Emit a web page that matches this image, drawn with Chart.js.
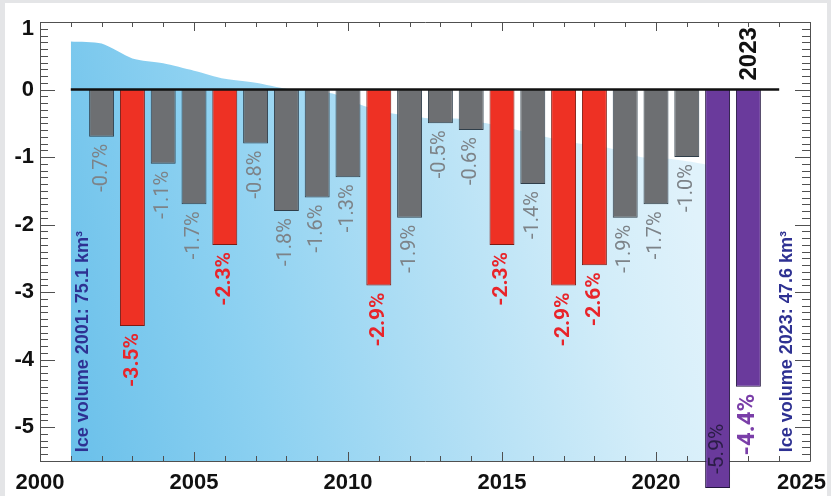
<!DOCTYPE html>
<html>
<head>
<meta charset="utf-8">
<script src="https://cdn.jsdelivr.net/npm/chart.js@4.4.1/dist/chart.umd.min.js"></script>
<style>
  html, body { margin: 0; padding: 0; background: #e4e5e7; }
  #wrap { position: absolute; left: 5px; top: 3px; width: 822px; height: 493px; background: #fff; }
</style>
</head>
<body>
<div id="wrap"><canvas id="iceChart"></canvas></div>
<script>
// Yearly change of ice volume (%)
const years = [2002, 2003, 2004, 2005, 2006, 2007, 2008, 2009, 2010, 2011, 2012,
               2013, 2014, 2015, 2016, 2017, 2018, 2019, 2020, 2021, 2022, 2023];
const changes = [-0.7, -3.5, -1.1, -1.7, -2.3, -0.8, -1.8, -1.6, -1.3, -2.9, -1.9,
                 -0.5, -0.6, -2.3, -1.4, -2.9, -2.6, -1.9, -1.7, -1.0, -5.9, -4.4];
const kinds = ['grey', 'red', 'grey', 'grey', 'red', 'grey', 'grey', 'grey', 'grey', 'red', 'grey',
               'grey', 'grey', 'red', 'grey', 'red', 'red', 'grey', 'grey', 'grey', 'purple', 'purple'];

// background "ice volume" area, top edge
const areaYears = [2001, 2002, 2003, 2004, 2005, 2006, 2007, 2008, 2008.5, 2009.5, 2010.5, 2011.5,
                   2012.5, 2013.5, 2014.5, 2015.5, 2016.5, 2017.5, 2018.5, 2019.5, 2020.5, 2021.5, 2022];
const areaTop = [0.71, 0.68, 0.46, 0.39, 0.28, 0.16, 0.10, 0.01, -0.01, -0.06, -0.24, -0.36,
                 -0.42, -0.43, -0.5, -0.6, -0.71, -0.8, -0.87, -1.0, -1.03, -1.1, -1.15];

const baseLine = [2001, 2024];
const xTickLabels = [2000, 2005, 2010, 2015, 2020, 2025];
const yTickLabels = [1, 0, -1, -2, -3, -4, -5];
const noteLeft = 'Ice volume 2001: 75.1 km³';
const noteRight = 'Ice volume 2023: 47.6 km³';
const highlightYear = '2023';

const fills = { grey: '#6d6f72', red: '#ee3124', purple: '#6a3a9c' };
const edges = { grey: '#2f3e4a', red: '#7d1a12', purple: '#241640' };
const labelColors = { grey: '#7d8388', red: '#e8242a', purple: '#7a3ea8' };
const labelFonts = { grey: '400 20px Roboto', red: '700 21px Roboto', purple: '700 24px Roboto' };
const axisFont = 'bold 22px "Liberation Sans", Arial, sans-serif';

function areaGradient(chart) {
  const a = chart.chartArea;
  if (!a) return '#9fd6f2';
  const x = chart.scales.x;
  const g = chart.ctx.createLinearGradient(x.getPixelForValue(2001), a.bottom,
                                           x.getPixelForValue(2022), a.bottom - 150);
  g.addColorStop(0, '#6ac0ea');
  g.addColorStop(0.3, '#8dd1f1');
  g.addColorStop(0.6, '#b4e0f5');
  g.addColorStop(0.85, '#d3edf9');
  g.addColorStop(1, '#e0f2fb');
  return g;
}

// rotated text, reading bottom to top
function vText(ctx, str, cx, y0, align, font, color) {
  ctx.save();
  ctx.translate(cx, y0);
  ctx.rotate(-Math.PI / 2);
  ctx.font = font;
  ctx.fillStyle = color;
  ctx.textAlign = align;
  ctx.textBaseline = 'middle';
  ctx.fillText(str, 0, 0);
  ctx.restore();
}

const px = v => Math.round(v) + 0.5;

// frame, inward ticks and tick labels - drawn right after the area, under the bars
const framePlugin = {
  id: 'frame',
  afterDatasetDraw(chart, args) {
    if (args.index !== 0) return;
    const { ctx, chartArea: a, scales: { x, y } } = chart;
    ctx.save();
    ctx.strokeStyle = '#505050';
    ctx.lineWidth = 1;
    ctx.beginPath();
    ctx.rect(px(a.left), px(a.top), Math.round(a.right - a.left), Math.round(a.bottom - a.top));
    for (let i = -55; i <= 10; i++) {
      const yy = px(y.getPixelForValue(i / 10));
      const len = i % 10 === 0 ? 15 : 8;
      ctx.moveTo(a.left, yy); ctx.lineTo(a.left + len, yy);
      ctx.moveTo(a.right, yy); ctx.lineTo(a.right - len, yy);
    }
    for (let yr = x.min; yr <= x.max; yr++) {
      const xx = px(x.getPixelForValue(yr));
      const len = yr % 5 === 0 ? 9 : 5;
      ctx.moveTo(xx, a.top); ctx.lineTo(xx, a.top + len);
      ctx.moveTo(xx, a.bottom); ctx.lineTo(xx, a.bottom - len);
    }
    ctx.stroke();

    ctx.fillStyle = '#111';
    ctx.font = axisFont;
    ctx.textAlign = 'right';
    ctx.textBaseline = 'middle';
    yTickLabels.forEach(v => {
      const yy = Math.max(y.getPixelForValue(v), a.top + 7);
      ctx.fillText(String(v), a.left - 6, yy);
    });
    ctx.textAlign = 'center';
    xTickLabels.forEach(v => {
      const w = ctx.measureText(String(v)).width;
      const xx = Math.min(x.getPixelForValue(v), chart.width - w / 2 - 1);
      ctx.fillText(String(v), xx, a.bottom + 22);
    });
    ctx.restore();
  }
};

// value labels and notes
const notesPlugin = {
  id: 'notes',
  afterDatasetsDraw(chart) {
    const { ctx, scales: { x, y } } = chart;
    years.forEach((yr, i) => {
      const v = changes[i], k = kinds[i];
      const cx = x.getPixelForValue(yr);
      const end = y.getPixelForValue(v);
      const txt = v.toFixed(1) + '%';
      if (v < y.min) {
        vText(ctx, txt, cx, end - 14, 'left', '400 21px Roboto', '#2b1d47');
      } else {
        vText(ctx, txt, cx, end + 7, 'right', labelFonts[k], labelColors[k]);
      }
    });
    vText(ctx, highlightYear, x.getPixelForValue(Number(highlightYear)) + 1, y.getPixelForValue(0) - 9,
          'left', 'bold 24px "Liberation Sans", Arial, sans-serif', '#111');
    const noteFont = 'bold 18px "Liberation Sans", Arial, sans-serif';
    vText(ctx, noteLeft, x.getPixelForValue(2001.4), y.getPixelForValue(-5.37), 'left', noteFont, '#2e3192');
    vText(ctx, noteRight, x.getPixelForValue(2024.25), y.getPixelForValue(-5.37), 'left', noteFont, '#2e3192');
  }
};

new Chart(document.getElementById('iceChart'), {
  type: 'bar',
  data: {
    datasets: [
      {
        type: 'line',
        data: areaYears.map((yr, i) => ({ x: yr, y: areaTop[i] })),
        fill: 'start',
        backgroundColor: c => areaGradient(c.chart),
        borderColor: 'transparent',
        borderWidth: 0,
        pointRadius: 0,
        tension: 0.25,
        order: 3
      },
      {
        type: 'bar',
        data: years.map((yr, i) => ({ x: yr, y: changes[i] })),
        backgroundColor: kinds.map(k => fills[k]),
        borderColor: kinds.map(k => edges[k]),
        borderWidth: 1,
        barPercentage: 0.81,
        categoryPercentage: 1,
        clip: false,
        order: 2
      },
      {
        type: 'line',
        data: baseLine.map(yr => ({ x: yr, y: 0 })),
        borderColor: '#111',
        borderWidth: 2.5,
        pointRadius: 0,
        fill: false,
        order: 1
      }
    ]
  },
  options: {
    responsive: true,
    maintainAspectRatio: false,
    animation: false,
    events: [],
    layout: { padding: { left: 35, top: 19, right: 17, bottom: 35 } },
    plugins: { legend: { display: false }, tooltip: { enabled: false } },
    scales: {
      x: { type: 'linear', min: 2000, max: 2025, offset: false, display: false },
      y: { type: 'linear', min: -5.5, max: 1, display: false }
    }
  },
  plugins: [framePlugin, notesPlugin]
});
</script>
</body>
</html>
